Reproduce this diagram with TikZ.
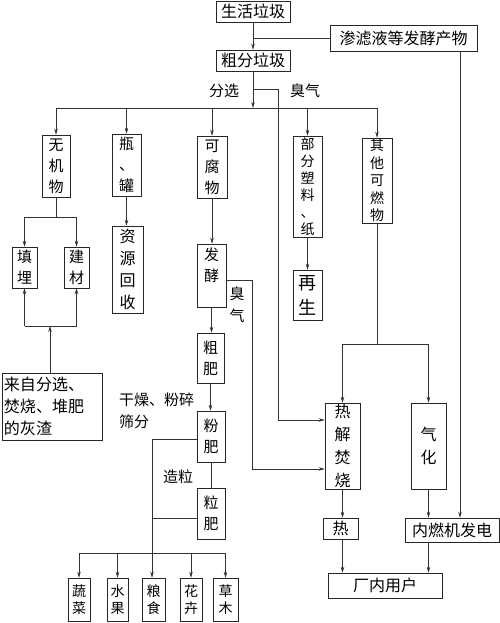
\documentclass[tikz,border=0pt]{standalone}
\usepackage{fontspec}
\setmainfont{Noto Sans CJK SC}
\usetikzlibrary{arrows.meta}
\tikzset{
  box/.style={draw=black!85, line width=0.6pt, inner sep=0pt, align=center, font=\fontsize{16}{21}\selectfont},
  vbox/.style={box, font=\fontsize{15}{21}\selectfont},
  sbox/.style={box, font=\fontsize{14}{17.5}\selectfont},
  wbox/.style={box, font=\fontsize{16}{23}\selectfont},
  lbl/.style={inner sep=0pt, font=\fontsize{15}{22}\selectfont},
  ln/.style={draw=black!80, line width=0.5pt},
  arr/.style={ln, -{Stealth[length=6pt,width=3.5pt]}}
}
\begin{document}
\begin{tikzpicture}[x=1pt,y=-1pt]
\useasboundingbox (0,0) rectangle (500,623);
% nodes
\node[box, minimum width=74pt, minimum height=21pt] (shh) at (253,11.5) {生活垃圾};
\node[box, minimum width=147pt, minimum height=26pt] (slv) at (403.5,38) {渗滤液等发酵产物};
\node[box, minimum width=74pt, minimum height=21pt] (cf) at (253,60.5) {粗分垃圾};
\node[vbox, minimum width=28pt, minimum height=62pt] (wjw) at (56,166) {无\\机\\物};
\node[vbox, minimum width=29pt, minimum height=62pt] (pg) at (126.5,165) {瓶\\、\\罐};
\node[vbox, minimum width=30pt, minimum height=62pt] (kfw) at (212,167) {可\\腐\\物};
\node[sbox, font=\fontsize{14}{17}\selectfont, minimum width=29pt, minimum height=101pt] (bf) at (307.5,186.5) {部\\分\\塑\\料\\、\\纸};
\node[sbox, minimum width=30pt, minimum height=85pt] (qt) at (377,180.5) {其\\他\\可\\燃\\物};
\node[vbox, minimum width=25pt, minimum height=41pt] (tm) at (24.5,267.5) {填\\埋};
\node[vbox, minimum width=25pt, minimum height=41pt] (jc) at (76.5,267.5) {建\\材};
\node[box, font=\fontsize{16}{22}\selectfont, minimum width=31pt, minimum height=87pt] (zy) at (127.5,269.5) {资\\源\\回\\收};
\node[vbox, minimum width=29pt, minimum height=63pt] (fj) at (211.5,275.5) {发\\酵\\\phantom{酵}};
\node[box, font=\fontsize{18}{25}\selectfont, minimum width=29pt, minimum height=50pt] (zs) at (307.5,295) {再\\生};
\node[vbox, minimum width=27pt, minimum height=50pt] (cfei) at (210.5,358) {粗\\肥};
\node[box, align=left, font=\fontsize{16}{22}\selectfont, minimum width=100pt, minimum height=67pt] (hz) at (52,406.5) {来自分选、\\焚烧、堆肥\\的灰渣\hphantom{、堆肥}};
\node[vbox, minimum width=28pt, minimum height=51pt] (ff) at (211,436.5) {粉\\肥};
\node[vbox, minimum width=28pt, minimum height=51pt] (lf) at (211,513.5) {粒\\肥};
\node[wbox, minimum width=35pt, minimum height=86pt] (rjf) at (342.5,446) {热\\解\\焚\\烧};
\node[wbox, minimum width=35pt, minimum height=86pt] (qh) at (428.5,446) {气\\化};
\node[box, minimum width=35pt, minimum height=21pt] (re) at (340.5,528.5) {热};
\node[box, minimum width=94pt, minimum height=24pt] (nr) at (452,530) {内燃机发电};
\node[box, minimum width=114pt, minimum height=25pt] (cn) at (385,585.5) {厂内用户};
\node[sbox, minimum width=22pt, minimum height=43pt] (sc) at (79,599.5) {蔬\\菜};
\node[sbox, minimum width=21pt, minimum height=43pt] (sg) at (117.5,599.5) {水\\果};
\node[sbox, minimum width=23pt, minimum height=43pt] (ls) at (153.5,599.5) {粮\\食};
\node[sbox, minimum width=22pt, minimum height=43pt] (hh) at (191,599.5) {花\\卉};
\node[sbox, minimum width=25pt, minimum height=43pt] (cm) at (225.5,599.5) {草\\木};
% labels
\node[lbl] (fx) at (224,91) {分选};
\node[lbl] (cq1) at (305,91) {臭气};
\node[lbl, align=center] (cq2) at (237,305) {臭\\气};
\node[lbl, align=left, anchor=north west] (gz) at (119,393) {干燥、粉碎\\筛分};
\node[lbl] (zl) at (178,477) {造粒};
% coordinates
\coordinate (j1) at (253,38);
\coordinate (bus) at (253,108);
\coordinate (cqa) at (253,89);
\coordinate (cqb) at (278,89);
\coordinate (cqc) at (278,420);
\coordinate (fja) at (226,280);
\coordinate (fjb) at (252,280);
\coordinate (fjc) at (252,469);
\coordinate (wj) at (56,217);
\coordinate (hzj) at (50,326);
\coordinate (qtj) at (377,344);
\coordinate (ffj) at (152,439);
\coordinate (lfj) at (152,518);
\coordinate (bb) at (152,553);
% connectors
\draw[arr] (shh) -- (cf);
\draw[ln] (slv.west) -- (j1);
\draw[arr] (cf) -- (bus);
\draw[ln] (wjw.north |- bus) -- (qt.north |- bus);
\draw[arr] (wjw.north |- bus) -- (wjw.north);
\draw[arr] (pg.north |- bus) -- (pg.north);
\draw[arr] (kfw.north |- bus) -- (kfw.north);
\draw[arr] (bf.north |- bus) -- (bf.north);
\draw[arr] (qt.north |- bus) -- (qt.north);
\draw[arr] (cqa) -- (cqb) -- (cqc) -- (rjf.west |- cqc);
\draw[ln] (wjw) -- (wj);
\draw[ln] (tm.north |- wj) -- (jc.north |- wj);
\draw[arr] (tm.north |- wj) -- (tm.north);
\draw[arr] (jc.north |- wj) -- (jc.north);
\draw[arr] (hz.north -| hzj) -- (hzj);
\draw[ln] (tm.south |- hzj) -- (jc.south |- hzj);
\draw[arr] (tm.south |- hzj) -- (tm.south);
\draw[arr] (jc.south |- hzj) -- (jc.south);
\draw[arr] (pg.south) -- (pg.south |- zy.north);
\draw[arr] (kfw) -- (kfw.south |- fj.north);
\draw[arr] (fja) -- (fjb) -- (fjc) -- (rjf.west |- fjc);
\draw[arr] (fj) -- (fj.south |- cfei.north);
\draw[arr] (cfei) -- (cfei.south |- ff.north);
\draw[ln] (ff) -- (ff.south |- lf.north);
\draw[arr] (ff.west |- ffj) -- (ffj) -- (ls.north -| ffj);
\draw[ln] (lf.west |- lfj) -- (lfj);
\draw[ln] (sc.north |- bb) -- (cm.north |- bb);
\draw[arr] (sc.north |- bb) -- (sc.north);
\draw[arr] (sg.north |- bb) -- (sg.north);
\draw[arr] (hh.north |- bb) -- (hh.north);
\draw[arr] (cm.north |- bb) -- (cm.north);
\draw[arr] (bf) -- (bf.south |- zs.north);
\draw[ln] (qt) -- (qtj);
\draw[ln] (rjf.north |- qtj) -- (qh.north |- qtj);
\draw[arr] (rjf.north |- qtj) -- (rjf.north);
\draw[arr] (qh.north |- qtj) -- (qh.north);
\draw[arr] (slv.south -| 460,0) -- (nr.north -| 460,0);
\draw[arr] (qh) -- (qh.south |- nr.north);
\draw[arr] (rjf) -- (rjf.south |- re.north);
\draw[arr] (re.south -| rjf.south) -- (rjf.south |- cn.north);
\draw[arr] (nr.south -| qh.south) -- (qh.south |- cn.north);
\end{tikzpicture}
\end{document}
